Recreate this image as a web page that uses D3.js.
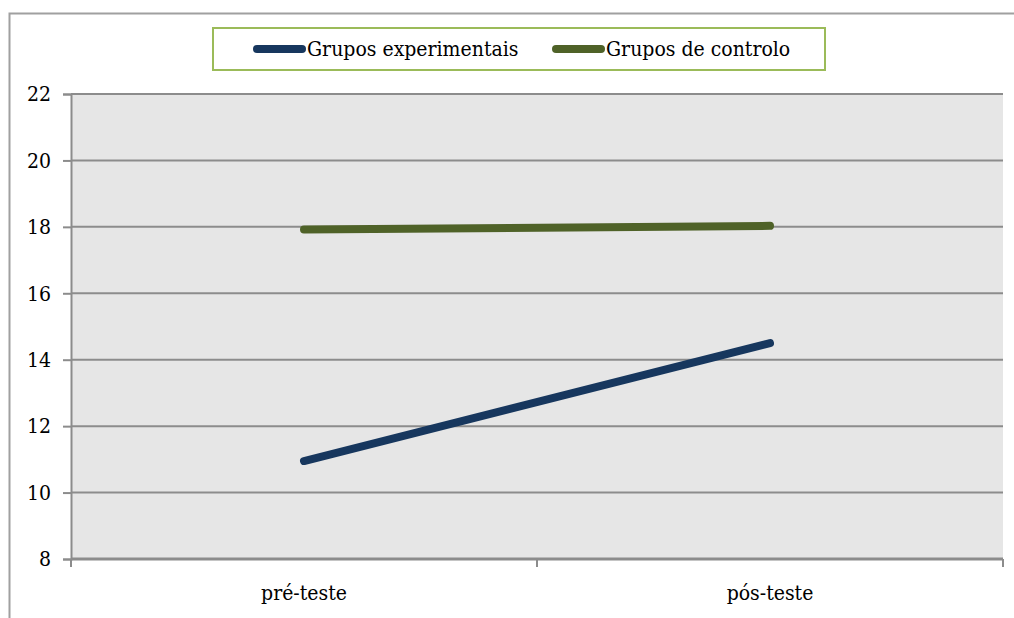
<!DOCTYPE html>
<html>
<head>
<meta charset="utf-8">
<script src="https://cdn.jsdelivr.net/npm/d3@7"></script>
<style>
  body { margin: 0; background: #fff; }
  text { font-family: "DejaVu Serif Condensed", "DejaVu Serif", serif; font-stretch: condensed; }
</style>
</head>
<body>
<div id="chart"></div>
<script>
// Chart data
const categories = ['pré-teste', 'pós-teste'];
const seriesNames = ['Grupos experimentais', 'Grupos de controlo'];
const experimentais = [10.95, 14.5];
const controlo = [17.92, 18.03];
const yTicks = [8, 10, 12, 14, 16, 18, 20, 22];
const colors = ['#17375e', '#4f6228'];

const width = 1014, height = 618;
const margin = { top: 94, right: 11, bottom: 59, left: 71 };

const svg = d3.select('#chart')
    .append('svg')
    .attr('width', width)
    .attr('height', height)
    .attr('font-size', 21);

// Outer frame (top and left edges visible)
svg.append('path')
    .attr('d', `M9.5,${height}V13.5H${width}`)
    .attr('fill', 'none')
    .attr('stroke', '#a0a0a0')
    .attr('stroke-width', 2);

const plotW = width - margin.left - margin.right;
const plotH = height - margin.top - margin.bottom;

const x = d3.scaleBand()
    .domain(categories)
    .range([margin.left, margin.left + plotW]);

const y = d3.scaleLinear()
    .domain([8, 22])
    .range([margin.top + plotH, margin.top]);

// Plot background
svg.append('rect')
    .attr('x', margin.left)
    .attr('y', margin.top)
    .attr('width', plotW)
    .attr('height', plotH)
    .attr('fill', '#e6e6e6');

// Gridlines
svg.append('g')
    .selectAll('line')
    .data(yTicks.slice(1))
    .join('line')
    .attr('x1', margin.left)
    .attr('x2', margin.left + plotW)
    .attr('y1', d => y(d))
    .attr('y2', d => y(d))
    .attr('stroke', '#8c8c8c')
    .attr('stroke-width', 2);

// Y axis
const yAxis = svg.append('g')
    .attr('transform', `translate(${margin.left},0)`)
    .call(d3.axisLeft(y).tickValues(yTicks).tickSize(8).tickPadding(12))
    .attr('font-size', 21);
yAxis.select('.domain').attr('stroke', '#8c8c8c').attr('stroke-width', 2);
yAxis.selectAll('.tick line').attr('stroke', '#8c8c8c').attr('stroke-width', 2);
yAxis.selectAll('.tick text').attr('fill', '#000');

// X axis (ticks at category boundaries)
const xAxisG = svg.append('g')
    .attr('transform', `translate(0,${margin.top + plotH})`);
xAxisG.append('line')
    .attr('x1', margin.left)
    .attr('x2', margin.left + plotW)
    .attr('stroke', '#8c8c8c')
    .attr('stroke-width', 3);
const boundaries = categories.map(c => x(c)).concat([margin.left + plotW]);
xAxisG.selectAll('line.tick')
    .data(boundaries)
    .join('line')
    .attr('class', 'tick')
    .attr('x1', d => d)
    .attr('x2', d => d)
    .attr('y1', 0)
    .attr('y2', 8)
    .attr('stroke', '#8c8c8c')
    .attr('stroke-width', 2);
xAxisG.selectAll('text')
    .data(categories)
    .join('text')
    .attr('x', d => x(d) + x.bandwidth() / 2)
    .attr('y', 41)
    .attr('text-anchor', 'middle')
    .text(d => d);

// Lines
const line = d3.line()
    .x((d, i) => x(categories[i]) + x.bandwidth() / 2)
    .y(d => y(d));

[experimentais, controlo].forEach((values, i) => {
    svg.append('path')
        .datum(values)
        .attr('d', line)
        .attr('fill', 'none')
        .attr('stroke', colors[i])
        .attr('stroke-width', 8)
        .attr('stroke-linecap', 'round');
});

// Legend
const legend = svg.append('g');
legend.append('rect')
    .attr('x', 213)
    .attr('y', 28)
    .attr('width', 612)
    .attr('height', 42)
    .attr('fill', '#fff')
    .attr('stroke', '#9bbb59')
    .attr('stroke-width', 2);

const legendX = [257, 556];
seriesNames.forEach((name, i) => {
    legend.append('line')
        .attr('x1', legendX[i])
        .attr('x2', legendX[i] + 45)
        .attr('y1', 49)
        .attr('y2', 49)
        .attr('stroke', colors[i])
        .attr('stroke-width', 8)
        .attr('stroke-linecap', 'round');
    legend.append('text')
        .attr('x', legendX[i] + 50)
        .attr('y', 56)
        .text(name);
});
</script>
</body>
</html>
